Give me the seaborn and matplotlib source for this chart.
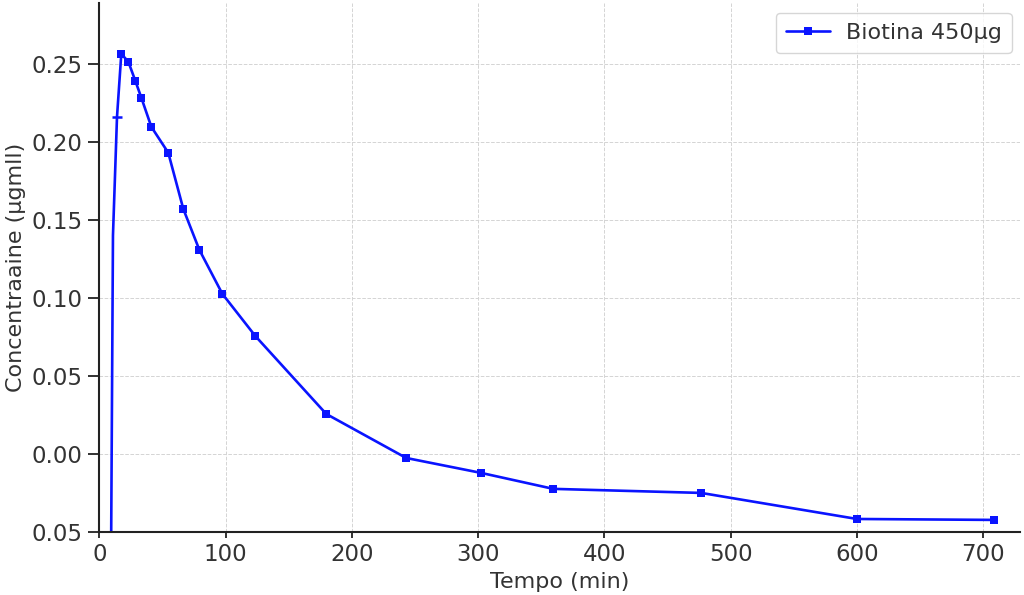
import matplotlib
matplotlib.use("Agg")
import matplotlib.pyplot as plt
import pandas as pd
import seaborn as sns

# tempo in minuti, concentrazione in µg/ml
tempo = [9.4, 10.8, 14.0, 17.4, 23.0, 28.5, 33.3, 41.2, 54.6, 66.5, 79.2,
         97.4, 123.5, 179.7, 243.0, 302.5, 359.5, 476.6, 600.0, 708.6]
conc = [-0.050, 0.140, 0.216, 0.2564, 0.2513, 0.2391, 0.2282, 0.2096, 0.193,
        0.157, 0.1308, 0.1026, 0.0756, 0.0256, -0.0026, -0.0122, -0.0224,
        -0.025, -0.0417, -0.0423]

y_ticks = [-0.05, 0.00, 0.05, 0.10, 0.15, 0.20, 0.25]
y_tick_labels = ["0.05", "0.00", "0.05", "0.10", "0.15", "0.20", "0.25"]
x_ticks = [0, 100, 200, 300, 400, 500, 600, 700]

sns.set_style("whitegrid", {
    "grid.linestyle": "--",
    "grid.color": "#d0d0d0",
    "axes.edgecolor": "black",
})
plt.rcParams["font.family"] = ["DejaVu Sans"]

df = pd.DataFrame({"tempo": tempo, "conc": conc})

fig = plt.figure(figsize=(10.24, 5.95), dpi=100)
ax = fig.add_axes([0.097, 0.106, 0.899, 0.889])

blue = "#0a14ff"
sns.lineplot(data=df, x="tempo", y="conc", sort=False, estimator=None,
             color=blue, linewidth=1.9, marker="s", markersize=6,
             markeredgewidth=0, markevery=list(range(3, len(tempo))),
             label="Biotina 450µg", ax=ax)
ax.plot(tempo[2], conc[2], marker="_", markersize=7, markeredgewidth=1.8,
        color=blue, linestyle="none")

ax.set_xlim(0, 729)
ax.set_ylim(-0.05, 0.289)
ax.set_xticks(x_ticks)
ax.set_yticks(y_ticks)
ax.set_yticklabels(y_tick_labels)

for side in ["top", "right"]:
    ax.spines[side].set_visible(False)
for side in ["left", "bottom"]:
    ax.spines[side].set_linewidth(1.5)
    ax.spines[side].set_color("#222222")

ax.tick_params(axis="both", which="major", direction="out", width=1.3,
               color="#222222", labelsize=16.5, labelcolor="#333333",
               bottom=True, left=True)
ax.tick_params(axis="y", length=8, pad=4)
ax.tick_params(axis="x", length=4, pad=4)
ax.grid(True, linestyle="--", linewidth=0.7, color="#d4d4d4")

ax.set_xlabel("Tempo (min)", fontsize=16, color="#333333", labelpad=4)
ax.set_ylabel("Concentraaine (µgmll)", fontsize=16, color="#333333",
              labelpad=4)

leg = ax.legend(loc="upper right", fontsize=16, frameon=True,
                borderpad=0.45, handlelength=2.0, handletextpad=0.7,
                borderaxespad=0, bbox_to_anchor=(0.991, 0.981))
leg.get_frame().set_edgecolor("#cccccc")
for t in leg.get_texts():
    t.set_color("#333333")

fig.savefig("out.png", dpi=100)
